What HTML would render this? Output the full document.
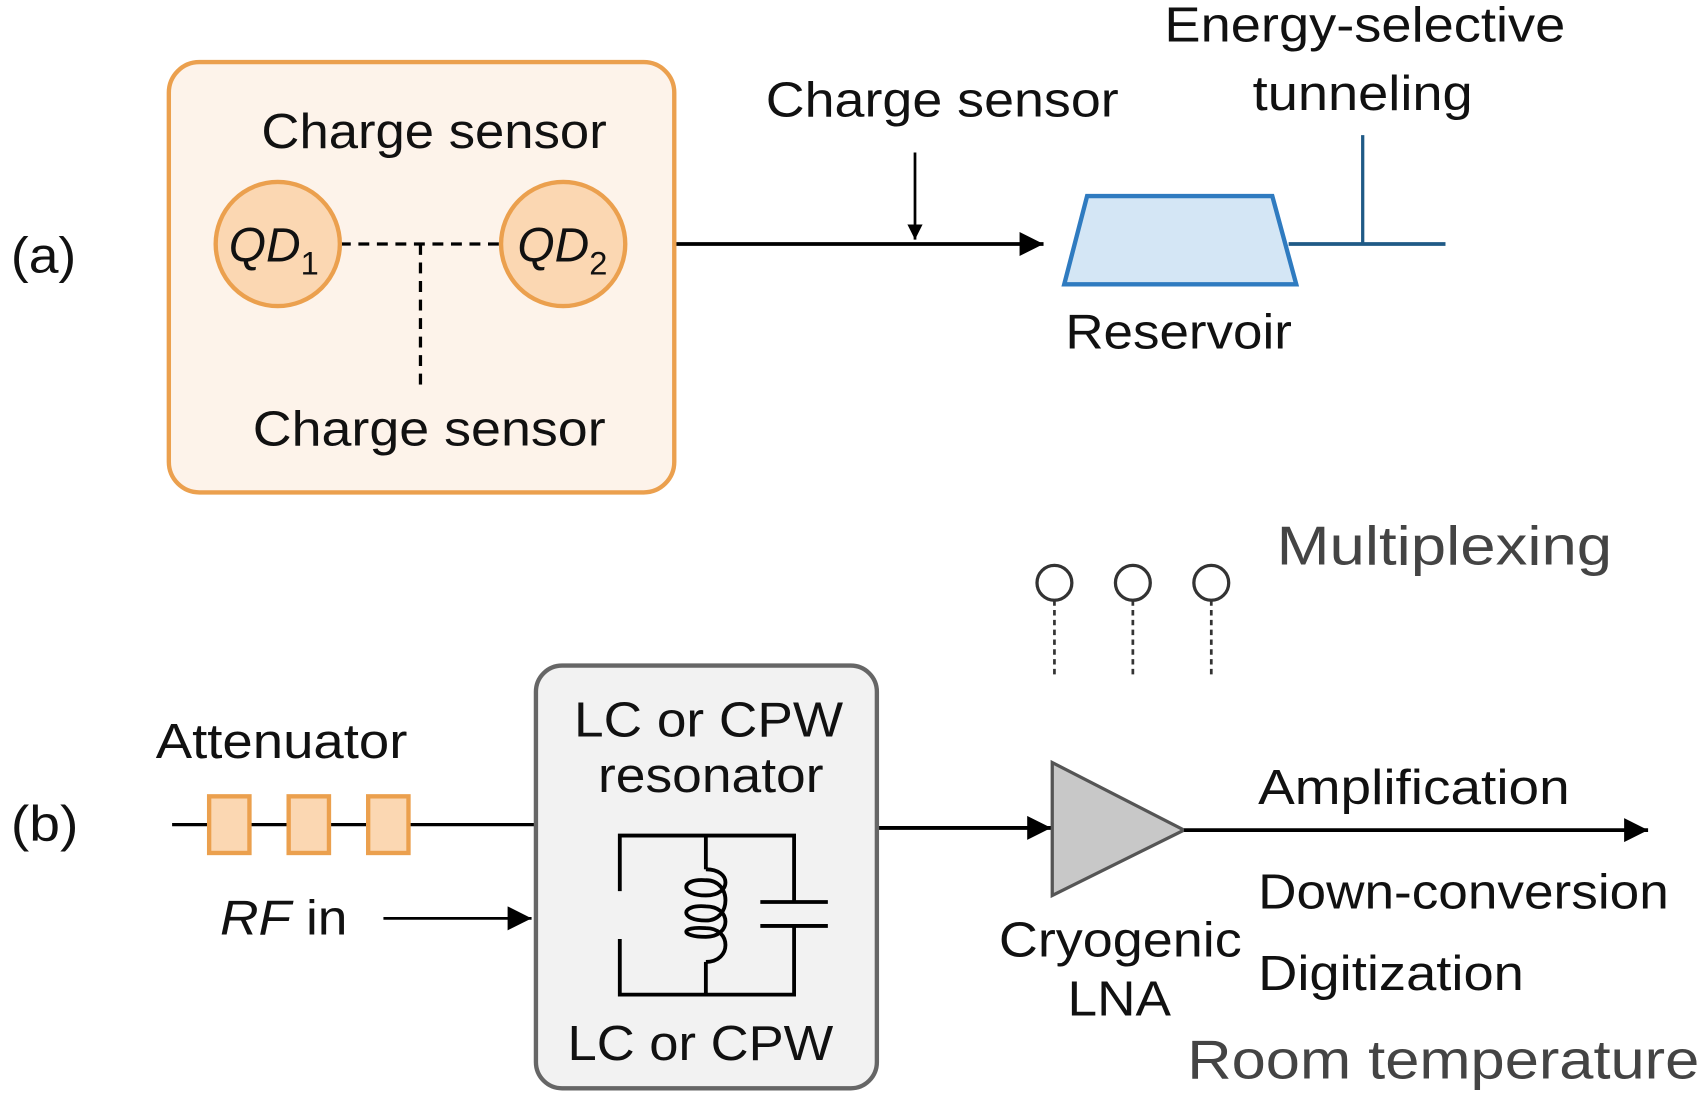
<!DOCTYPE html>
<html><head><meta charset="utf-8"><style>
html,body{margin:0;padding:0;background:#fff;}
svg{display:block;}
text{font-family:"Liberation Sans",sans-serif;fill:#111;}
</style></head><body>
<svg width="1708" height="1097" viewBox="0 0 1568 1007" preserveAspectRatio="none" xmlns="http://www.w3.org/2000/svg">
<defs>
<marker id="ah2" viewBox="0 0 10 10" refX="10" refY="5" markerWidth="26" markerHeight="22" orient="auto" markerUnits="userSpaceOnUse"><path d="M0,0 L10,5 L0,10 z" fill="#000"/></marker>
<marker id="ah3" viewBox="0 0 10 10" refX="10" refY="5" markerWidth="14" markerHeight="14" orient="auto" markerUnits="userSpaceOnUse"><path d="M0,0 L10,5 L0,10 z" fill="#000"/></marker>
</defs>
<!-- (a) -->
<text x="10" y="250" font-size="46" textLength="60" lengthAdjust="spacingAndGlyphs">(a)</text>
<rect x="155" y="57" width="464" height="395" rx="28" fill="#fdf3ea" stroke="#eba04e" stroke-width="4"/>
<text x="240" y="136" font-size="45" textLength="317" lengthAdjust="spacingAndGlyphs">Charge sensor</text>
<text x="232" y="409" font-size="45" textLength="324" lengthAdjust="spacingAndGlyphs">Charge sensor</text>
<line x1="312" y1="224" x2="460" y2="224" stroke="#000" stroke-width="3" stroke-dasharray="10,7"/>
<line x1="386" y1="224" x2="386" y2="358" stroke="#000" stroke-width="3" stroke-dasharray="10,7"/>
<circle cx="255" cy="224" r="57" fill="#fbd7b2" stroke="#eba04e" stroke-width="4"/>
<circle cx="517" cy="224" r="57" fill="#fbd7b2" stroke="#eba04e" stroke-width="4"/>
<text x="210" y="240" font-size="44" font-style="italic">QD<tspan font-size="30" font-style="normal" dy="12">1</tspan></text>
<text x="475" y="240" font-size="44" font-style="italic">QD<tspan font-size="30" font-style="normal" dy="12">2</tspan></text>
<line x1="621" y1="224" x2="958" y2="224" stroke="#000" stroke-width="3.5" marker-end="url(#ah2)"/>
<line x1="840" y1="140" x2="840" y2="220" stroke="#000" stroke-width="2.5" marker-end="url(#ah3)"/>
<text x="703" y="107" font-size="45" textLength="324" lengthAdjust="spacingAndGlyphs">Charge sensor</text>
<polygon points="998,180 1168,180 1190,261 977,261" fill="#d4e6f5" stroke="#2f7bc0" stroke-width="4"/>
<line x1="1183" y1="224" x2="1327" y2="224" stroke="#1f5a86" stroke-width="3.5"/>
<line x1="1251" y1="124" x2="1251" y2="224" stroke="#1f5a86" stroke-width="3"/>
<text x="978" y="320" font-size="45" textLength="208" lengthAdjust="spacingAndGlyphs">Reservoir</text>
<text x="1069" y="38" font-size="45" textLength="368" lengthAdjust="spacingAndGlyphs">Energy-selective</text>
<text x="1150" y="101" font-size="45" textLength="202" lengthAdjust="spacingAndGlyphs">tunneling</text>
<!-- (b) -->
<text x="10" y="772" font-size="46" textLength="62" lengthAdjust="spacingAndGlyphs">(b)</text>
<text x="143" y="696" font-size="45" textLength="231" lengthAdjust="spacingAndGlyphs">Attenuator</text>
<line x1="158" y1="757" x2="492" y2="757" stroke="#000" stroke-width="3"/>
<rect x="192" y="731" width="37" height="52" fill="#fbd7b2" stroke="#eba04e" stroke-width="4"/>
<rect x="265" y="731" width="37" height="52" fill="#fbd7b2" stroke="#eba04e" stroke-width="4"/>
<rect x="338" y="731" width="37" height="52" fill="#fbd7b2" stroke="#eba04e" stroke-width="4"/>
<text x="202" y="858" font-size="45" textLength="117" lengthAdjust="spacingAndGlyphs"><tspan font-style="italic">RF</tspan> in</text>
<line x1="352" y1="843" x2="488" y2="843" stroke="#000" stroke-width="2.5" marker-end="url(#ah2)"/>
<rect x="492" y="611" width="313" height="388" rx="24" fill="#f2f2f2" stroke="#666" stroke-width="4"/>
<text x="527" y="676" font-size="45" textLength="247" lengthAdjust="spacingAndGlyphs">LC or CPW</text>
<text x="549" y="727" font-size="45" textLength="207" lengthAdjust="spacingAndGlyphs">resonator</text>
<text x="521" y="973" font-size="45" textLength="244" lengthAdjust="spacingAndGlyphs">LC or CPW</text>
<g stroke="#000" stroke-width="3.5" fill="none">
<polyline points="569,818 569,767 729,767 729,828"/>
<polyline points="569,862 569,913 729,913 729,850"/>
<line x1="698" y1="828" x2="760" y2="828"/>
<line x1="698" y1="850" x2="760" y2="850"/>
<line x1="648" y1="767" x2="648" y2="798"/>
<line x1="648" y1="883" x2="648" y2="913"/>
<path d="M648,798 C672,798 672,822 648,822 C624,822 624,806 648,808 C672,808 672,845 648,845 C624,845 624,830 648,832 C672,832 672,860 648,860 C624,860 624,850 648,852 C672,852 672,883 648,883"/>
</g>
<line x1="807" y1="760" x2="965" y2="760" stroke="#000" stroke-width="3.5" marker-end="url(#ah2)"/>
<polygon points="966,700 1087,762 966,822" fill="#c8c8c8" stroke="#555" stroke-width="3"/>
<line x1="1087" y1="762" x2="1513" y2="762" stroke="#000" stroke-width="3.5" marker-end="url(#ah2)"/>
<text x="917" y="878" font-size="45" textLength="223" lengthAdjust="spacingAndGlyphs">Cryogenic</text>
<text x="980" y="932" font-size="45" textLength="95" lengthAdjust="spacingAndGlyphs">LNA</text>
<text x="1155" y="738" font-size="45" textLength="286" lengthAdjust="spacingAndGlyphs">Amplification</text>
<text x="1155" y="834" font-size="45" textLength="377" lengthAdjust="spacingAndGlyphs">Down-conversion</text>
<text x="1155" y="909" font-size="45" textLength="244" lengthAdjust="spacingAndGlyphs">Digitization</text>
<text x="1090" y="990" font-size="50" style="fill:#444" textLength="470" lengthAdjust="spacingAndGlyphs">Room temperature</text>
<text x="1172" y="518" font-size="50" style="fill:#444" textLength="308" lengthAdjust="spacingAndGlyphs">Multiplexing</text>
<g stroke="#333" stroke-width="2.5" fill="#fff">
<line x1="968" y1="551" x2="968" y2="620" stroke-dasharray="5,4"/>
<line x1="1040" y1="551" x2="1040" y2="620" stroke-dasharray="5,4"/>
<line x1="1112" y1="551" x2="1112" y2="620" stroke-dasharray="5,4"/>
<circle cx="968" cy="535" r="16" stroke-width="3"/>
<circle cx="1040" cy="535" r="16" stroke-width="3"/>
<circle cx="1112" cy="535" r="16" stroke-width="3"/>
</g>
</svg>
</body></html>
